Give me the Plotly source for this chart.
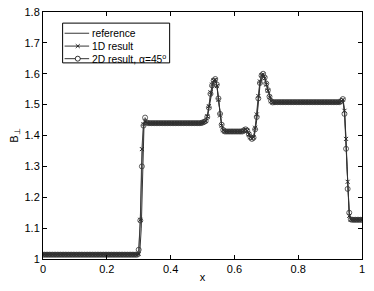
import numpy as np
import plotly.graph_objects as go

# grid for the numerical results
x_grid = np.linspace(0.0, 1.0, 201)

# 2D result, alpha = 45 deg (circles)
y_2d = ([1.014] * 60
        + [1.03, 1.125, 1.30, 1.432, 1.458, 1.442]
        + [1.440] * 34 + [1.442, 1.444]
        + [1.447, 1.46, 1.49, 1.535, 1.562, 1.578, 1.583, 1.565, 1.52, 1.47, 1.435, 1.418]
        + [1.413] * 12
        + [1.417, 1.42, 1.416, 1.405, 1.395, 1.389, 1.393, 1.42, 1.46, 1.52, 1.57,
           1.594, 1.60, 1.588, 1.568, 1.547, 1.526, 1.512, 1.507]
        + [1.508] * 42
        + [1.512, 1.518, 1.47, 1.357, 1.227, 1.15, 1.128]
        + [1.127] * 7)

# 1D result (x markers)
y_1d = ([1.014] * 60
        + [1.016, 1.127, 1.356, 1.437, 1.445, 1.441]
        + [1.440] * 34 + [1.442, 1.444]
        + [1.447, 1.462, 1.495, 1.54, 1.565, 1.578, 1.58, 1.56, 1.515, 1.465, 1.432, 1.417]
        + [1.413] * 12
        + [1.416, 1.419, 1.415, 1.404, 1.394, 1.39, 1.395, 1.425, 1.468, 1.528, 1.575,
           1.596, 1.598, 1.585, 1.565, 1.545, 1.524, 1.511, 1.507]
        + [1.508] * 42
        + [1.512, 1.516, 1.48, 1.389, 1.25, 1.14, 1.128]
        + [1.127] * 7)

# reference solution
ref_x = [0.0, 0.303, 0.308, 0.313, 0.317, 0.322, 0.508, 0.515, 0.525, 0.535, 0.540,
         0.545, 0.552, 0.560, 0.567, 0.625, 0.635, 0.645, 0.655, 0.662, 0.670, 0.680,
         0.690, 0.700, 0.712, 0.722, 0.935, 0.941, 0.946, 0.953, 0.960, 0.965, 1.0]
ref_y = [1.014, 1.014, 1.10, 1.36, 1.445, 1.441, 1.443, 1.458, 1.52, 1.572, 1.583,
         1.565, 1.50, 1.435, 1.414, 1.413, 1.42, 1.405, 1.39, 1.395, 1.45, 1.56,
         1.60, 1.57, 1.525, 1.508, 1.508, 1.518, 1.47, 1.30, 1.15, 1.127, 1.127]

series_names = ["reference", "1D result", "2D result, α=45<sup>o</sup>"]

x_ticks = [0, 0.2, 0.4, 0.6, 0.8, 1]
x_tick_text = ["0", "0.2", "0.4", "0.6", "0.8", "1"]
y_ticks = [1.0, 1.1, 1.2, 1.3, 1.4, 1.5, 1.6, 1.7, 1.8]
y_tick_text = ["1", "1.1", "1.2", "1.3", "1.4", "1.5", "1.6", "1.7", "1.8"]

fig = go.Figure()
fig.add_trace(go.Scatter(x=ref_x, y=ref_y, mode="lines", name=series_names[0],
                         line=dict(color="black", width=0.8)))
fig.add_trace(go.Scatter(x=x_grid, y=y_1d, mode="lines+markers", name=series_names[1],
                         line=dict(color="#222222", width=0.8),
                         marker=dict(symbol="x-thin-open", size=4, color="#222222",
                                     line=dict(width=1, color="#222222"))))
fig.add_trace(go.Scatter(x=x_grid, y=y_2d, mode="lines+markers",
                         name=series_names[2],
                         line=dict(color="#333333", width=0.8),
                         marker=dict(symbol="circle-open", size=5, color="#333333",
                                     line=dict(width=0.8, color="#333333"))))

font = dict(family="Liberation Sans, Arial, sans-serif", size=11, color="black")
legend_font = dict(family="Liberation Sans, Arial, sans-serif", size=10.3, color="black")

# compact MATLAB-style legend drawn as a box with key samples
box = dict(x0=0.0615, x1=0.397, y0=0.794, y1=0.955)
rows_y = [0.914, 0.862, 0.811]
key_x0, key_x1, key_xm, text_x = 0.0677, 0.1446, 0.109, 0.148
shapes = [dict(type="rect", xref="paper", yref="paper", layer="above",
               fillcolor="white", line=dict(color="black", width=1), **box)]
annotations = []
for i, ry in enumerate(rows_y):
    shapes.append(dict(type="line", xref="paper", yref="paper", layer="above",
                       x0=key_x0, x1=key_x1, y0=ry, y1=ry,
                       line=dict(color="black", width=0.8)))
    annotations.append(dict(text=series_names[i], xref="paper", yref="paper",
                            x=text_x, y=ry, xanchor="left", yanchor="middle",
                            showarrow=False, font=legend_font))
# x marker key
dx, dy = 0.0063, 0.008
shapes.append(dict(type="line", xref="paper", yref="paper", layer="above",
                   x0=key_xm - dx, x1=key_xm + dx, y0=rows_y[1] - dy, y1=rows_y[1] + dy,
                   line=dict(color="black", width=0.8)))
shapes.append(dict(type="line", xref="paper", yref="paper", layer="above",
                   x0=key_xm - dx, x1=key_xm + dx, y0=rows_y[1] + dy, y1=rows_y[1] - dy,
                   line=dict(color="black", width=0.8)))
# circle marker key
rx, ry_ = 0.0078, 0.0101
shapes.append(dict(type="circle", xref="paper", yref="paper", layer="above",
                   x0=key_xm - rx, x1=key_xm + rx, y0=rows_y[2] - ry_, y1=rows_y[2] + ry_,
                   fillcolor="white", line=dict(color="black", width=0.8)))

# last x tick label written as an annotation anchored at that tick on the x axis
shown_x_tick_text = x_tick_text[:-1] + [""]
annotations.append(dict(text=x_tick_text[-1], xref="x", yref="paper",
                        x=x_ticks[-1], y=0, xanchor="center", yanchor="top",
                        yshift=-2, showarrow=False, font=font))

# the page body has an 8px default margin on every side, so the figure is sized
# to fit entirely inside the 374x291 window (no scrolling / clipping)
fig.update_layout(
    width=358, height=275,
    margin=dict(l=35, r=4, t=4, b=24),
    paper_bgcolor="white", plot_bgcolor="white",
    font=font,
    showlegend=False,
    shapes=shapes,
    annotations=annotations,
)
fig.update_xaxes(range=[0, 1], tickvals=x_ticks, ticktext=shown_x_tick_text,
                 ticks="inside", ticklen=4, tickcolor="black", tickwidth=1,
                 showline=True, linecolor="black", linewidth=1, mirror="ticks",
                 showgrid=False, zeroline=False, automargin=False,
                 ticklabeloverflow="allow",
                 title=dict(text="x", font=font, standoff=0))
fig.update_yaxes(range=[1, 1.8], tickvals=y_ticks, ticktext=y_tick_text,
                 ticks="inside", ticklen=4, tickcolor="black", tickwidth=1,
                 showline=True, linecolor="black", linewidth=1, mirror="ticks",
                 showgrid=False, zeroline=False, automargin=False,
                 ticklabeloverflow="allow",
                 title=dict(text="B<sub>⊥</sub>", font=font, standoff=5))

fig.write_html("out.html")
